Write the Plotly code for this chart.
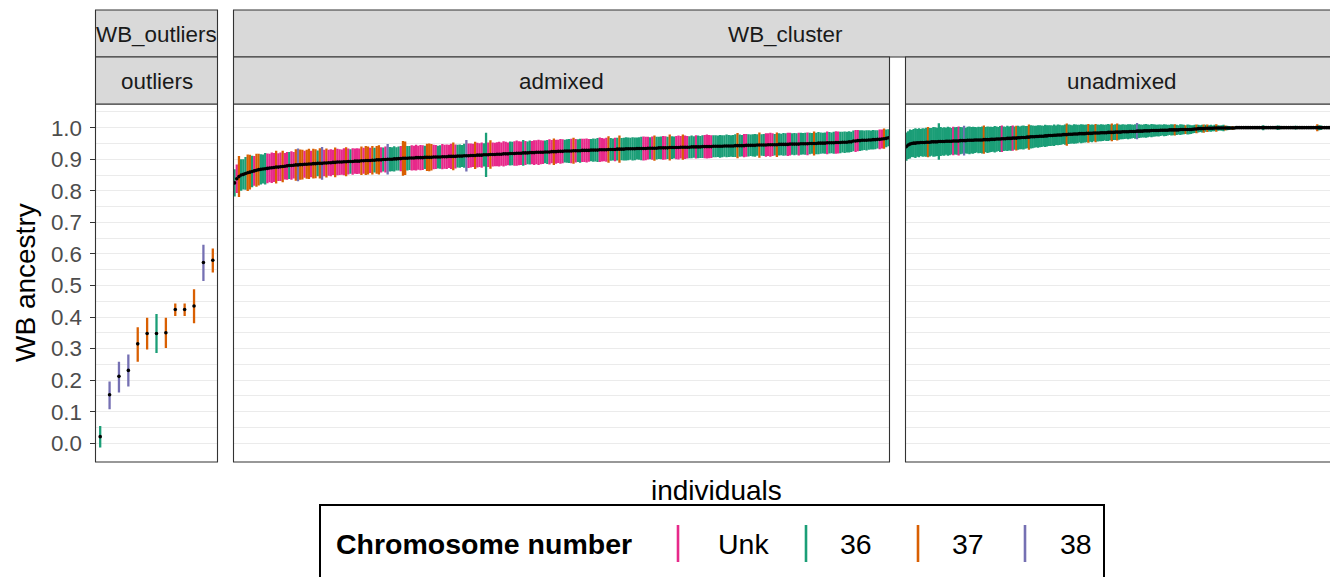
import plotly.graph_objects as go

# ---------------- data ----------------
chrom_labels = ["Unk", "36", "37", "38"]
chrom_code_map = {"U": "Unk", "6": "36", "7": "37", "8": "38"}

outlier_mean = [0.021, 0.154, 0.212, 0.231, 0.315, 0.348, 0.348, 0.350, 0.424, 0.424, 0.435, 0.573, 0.580]
outlier_lo = [-0.013, 0.108, 0.161, 0.180, 0.258, 0.297, 0.286, 0.302, 0.403, 0.403, 0.380, 0.514, 0.541]
outlier_hi = [0.055, 0.196, 0.258, 0.281, 0.368, 0.398, 0.410, 0.398, 0.443, 0.443, 0.488, 0.629, 0.617]
outlier_chrom = ["36", "38", "38", "38", "37", "37", "36", "37", "37", "37", "37", "38", "37"]

# admixed: mean and half-width of interval, in thousandths
admixed_mean_k = [
    825, 838, 845, 850, 852, 855, 857, 859, 861, 863, 865, 867, 868, 869, 870, 871, 872, 873, 874, 875,
    875, 876, 877, 878, 879, 880, 880, 881, 882, 882, 883, 883, 884, 884, 885, 885, 886, 886, 887, 887,
    887, 888, 888, 889, 889, 890, 890, 891, 891, 891, 892, 892, 893, 893, 893, 894, 894, 894, 895, 895,
    896, 896, 896, 897, 897, 898, 898, 898, 899, 899, 900, 900, 900, 901, 901, 902, 902, 903, 903, 903,
    904, 904, 904, 905, 905, 905, 905, 906, 906, 906, 906, 907, 907, 907, 907, 908, 908, 908, 909, 909,
    909, 909, 910, 910, 910, 911, 911, 911, 912, 912, 912, 913, 913, 913, 914, 914, 914, 915, 915, 915,
    916, 916, 916, 917, 917, 917, 918, 918, 918, 919, 919, 919, 920, 920, 920, 921, 921, 921, 922, 922,
    922, 922, 923, 923, 923, 924, 924, 924, 925, 925, 925, 926, 926, 926, 926, 927, 927, 927, 927, 928,
    928, 928, 928, 929, 929, 929, 929, 930, 930, 930, 930, 931, 931, 931, 931, 932, 932, 932, 932, 933,
    933, 933, 933, 933, 934, 934, 934, 934, 934, 935, 935, 935, 935, 935, 936, 936, 936, 936, 936, 937,
    937, 937, 937, 937, 938, 938, 938, 938, 938, 939, 939, 939, 939, 939, 940, 940, 940, 940, 940, 941,
    941, 941, 941, 941, 942, 942, 942, 942, 942, 943, 943, 943, 943, 943, 944, 944, 944, 944, 944, 945,
    945, 945, 945, 945, 946, 946, 946, 946, 946, 947, 947, 947, 947, 947, 948, 948, 948, 948, 948, 949,
    949, 949, 949, 950, 950, 950, 950, 951, 951, 951, 951, 952, 952, 952, 952, 953, 953, 953, 954, 954,
    954, 955, 955, 958, 958, 959, 959, 960, 960, 960, 961, 961, 962, 962, 963, 963, 964, 965, 966, 968,
]
admixed_err_k = [
    43, 45, 65, 50, 48, 52, 58, 55, 50, 47, 52, 50, 48, 46, 50, 47, 45, 48, 46, 52,
    44, 45, 50, 42, 44, 43, 45, 42, 50, 52, 48, 47, 43, 46, 48, 42, 47, 46, 41, 48,
    52, 42, 46, 41, 43, 40, 47, 42, 41, 40, 43, 46, 41, 39, 42, 40, 41, 40, 45, 41,
    46, 44, 40, 45, 39, 44, 46, 40, 38, 41, 48, 39, 38, 40, 37, 38, 40, 55, 53, 39,
    38, 40, 39, 41, 38, 40, 39, 37, 43, 44, 42, 39, 38, 36, 37, 40, 38, 39, 37, 40,
    44, 38, 36, 37, 35, 38, 50, 39, 38, 37, 43, 39, 38, 40, 37, 70, 39, 45, 38, 37,
    38, 39, 37, 40, 38, 36, 38, 37, 39, 40, 38, 37, 41, 38, 36, 38, 37, 39, 38, 40,
    38, 37, 36, 38, 40, 37, 42, 38, 37, 39, 38, 36, 37, 38, 39, 41, 37, 36, 38, 37,
    37, 38, 36, 35, 37, 36, 38, 39, 37, 36, 38, 42, 36, 35, 37, 36, 43, 35, 36, 37,
    36, 35, 37, 36, 35, 36, 37, 38, 37, 36, 35, 37, 40, 36, 35, 36, 38, 37, 35, 41,
    36, 35, 37, 38, 36, 40, 37, 36, 35, 36, 34, 37, 36, 35, 36, 37, 38, 37, 36, 35,
    35, 34, 36, 35, 34, 36, 35, 34, 35, 36, 40, 35, 34, 37, 36, 35, 34, 35, 36, 34,
    40, 34, 35, 37, 36, 38, 36, 34, 39, 35, 34, 36, 35, 37, 36, 34, 35, 34, 36, 35,
    34, 35, 36, 34, 33, 38, 34, 35, 34, 33, 34, 36, 34, 33, 35, 36, 35, 34, 33, 34,
    33, 34, 32, 33, 35, 34, 33, 32, 31, 32, 31, 30, 31, 30, 29, 31, 30, 32, 28, 27,
]
# chromosome code per admixed individual (U=Unk, 6=36, 7=37, 8=38)
admixed_chrom_codes = (
    "6U7666776U77666UUUU7"
    "UU7UU6UU7877U77U7767"
    "8U7UUU7UUUU7U6UUUU7U"
    "77U7677U6U866666U776"
    "6UUUUUU6777UU66UUUUU"
    "7U66668UUU7UUU66U7UU"
    "UUUUUU66UUUU6U66UUUU"
    "UU66UU7UUUU666U7U66U"
    "UUU6666UUUU766U67666"
    "6666666UUU6U7666UU67"
    "66UUU7UU666U666UUUU6"
    "6666666666766UU66666"
    "766UUUU676666UU666U6"
    "66U66766666U666UU666"
    "6666UU666666666UU766"
)

unadmixed_mean_k = [
    940, 945, 948, 950, 951, 951, 952, 952, 953, 953, 953, 954, 954, 954, 955, 955, 955, 955, 956, 956,
    956, 956, 957, 957, 957, 957, 958, 958, 958, 958, 959, 959, 959, 959, 960, 960, 960, 960, 961, 961,
    961, 961, 961, 962, 962, 962, 962, 963, 963, 963, 964, 964, 964, 965, 965, 965, 966, 966, 966, 967,
    967, 967, 968, 968, 969, 969, 969, 970, 970, 971, 971, 971, 972, 972, 973, 973, 973, 974, 974, 975,
    975, 975, 976, 976, 977, 977, 977, 978, 978, 978, 979, 979, 979, 980, 980, 980, 981, 981, 981, 981,
    982, 982, 982, 982, 983, 983, 983, 983, 984, 984, 984, 984, 985, 985, 985, 985, 986, 986, 986, 986,
    987, 987, 987, 987, 988, 988, 988, 988, 989, 989, 989, 989, 990, 990, 990, 990, 991, 991, 991, 991,
    991, 992, 992, 992, 992, 992, 993, 993, 993, 993, 993, 993, 994, 994, 994, 994, 994, 994, 994, 995,
    996, 996, 997, 997, 997, 997, 998, 998, 998, 998, 998, 999, 999, 999, 999, 999, 999, 999, 999, 999,
    999, 999, 999, 1000, 1000, 1000, 1000, 1000, 1000, 1000, 1000, 1000, 1000, 1000, 1000, 1000, 1000, 1000, 1000, 1000,
    1000, 1000, 1000, 1000, 1000, 1000, 1000, 1000, 1000, 1000, 1000, 1000, 1000, 1000, 1000, 1000, 1000, 1000, 1000, 1000,
    1000, 1000, 1000, 1000, 1000, 1000, 1000, 1000, 1000, 1000, 1000, 1000, 1000, 1000, 1000, 1000, 1000, 1000, 1000, 1000,
]
unadmixed_err_k = [
    45, 44, 46, 43, 45, 47, 44, 46, 43, 45, 44, 46, 48, 45, 44, 47, 46, 45, 58, 46,
    44, 45, 43, 46, 44, 42, 45, 43, 44, 46, 43, 42, 47, 41, 43, 44, 42, 43, 41, 40,
    42, 41, 43, 45, 40, 42, 41, 40, 39, 42, 40, 38, 41, 42, 39, 38, 40, 38, 39, 40,
    37, 39, 38, 36, 37, 38, 36, 35, 40, 37, 36, 35, 34, 36, 35, 34, 33, 35, 34, 33,
    33, 32, 34, 31, 33, 32, 31, 30, 32, 35, 31, 30, 29, 31, 30, 29, 28, 30, 29, 28,
    28, 30, 27, 28, 26, 29, 27, 26, 27, 26, 25, 26, 27, 25, 28, 24, 25, 27, 24, 23,
    24, 23, 22, 24, 23, 22, 21, 23, 26, 22, 21, 20, 21, 22, 20, 19, 21, 20, 19, 18,
    19, 18, 17, 19, 18, 17, 16, 18, 17, 18, 16, 15, 17, 16, 15, 14, 16, 15, 14, 13,
    13, 14, 12, 11, 12, 13, 11, 12, 10, 11, 9, 10, 12, 9, 8, 9, 10, 8, 7, 6,
    5, 6, 4, 3, 0, 0, 0, 0, 0, 0, 0, 0, 0, 0, 0, 0, 0, 0, 8, 0,
    0, 0, 0, 0, 0, 0, 7, 6, 0, 0, 0, 0, 0, 0, 0, 0, 6, 0, 0, 0,
    0, 0, 0, 0, 0, 0, 0, 0, 11, 8, 7, 0, 0, 0, 0, 0, 0, 0, 0, 0,
]
unadmixed_chrom_codes = (
    "66666666666676666666"
    "666666U66U6686666666"
    "6667666666666U66666U"
    "67666666766666666666"
    "66666666676666666666"
    "67666766666666766766"
    "66666666866666666666"
    "66666666676666676666"
    "67666767666676666766"
    "67666666666666666666"
    "66666666666666666666"
    "66666666766666666666"
)

y_ticks = [0.0, 0.1, 0.2, 0.3, 0.4, 0.5, 0.6, 0.7, 0.8, 0.9, 1.0]

# ---------------- styles / layout constants ----------------
W, H = 1330, 577
FONT = "Liberation Sans, Arial, Helvetica, sans-serif"
chrom_colors = {"Unk": "#E7298A", "36": "#1B9E77", "37": "#D95F02", "38": "#7570B3"}


def px(x):
    return x / W


def py(y):
    return 1 - y / H


PANEL_TOP, PANEL_BOT = 104, 462
panels = {
    "x": (95.5, 217.5),
    "x2": (233.5, 889.5),
    "x3": (905.5, 1338.0),
}
VISIBLE_RIGHT = 1330.0
BAR_PX = 2.3


def build(mean_k, err_k, codes):
    n = min(len(mean_k), len(err_k), len(codes))
    m = [v / 1000 for v in mean_k[:n]]
    lo = [m[i] - err_k[i] / 1000 for i in range(n)]
    hi = [m[i] + err_k[i] / 1000 for i in range(n)]
    ch = [chrom_code_map[c] for c in codes[:n]]
    return m, lo, hi, ch


adm = build(admixed_mean_k, admixed_err_k, admixed_chrom_codes)
una = build(unadmixed_mean_k, unadmixed_err_k, unadmixed_chrom_codes)
outl = (outlier_mean, outlier_lo, outlier_hi, outlier_chrom)

fig = go.Figure()
panel_data = {"x": outl, "x2": adm, "x3": una}
axis_ranges = {}
for ax, (m, lo, hi, ch) in panel_data.items():
    n = len(m)
    x0p, x1p = panels[ax]
    unit = (x1p - x0p) / n
    if ax == "x3":
        r = [-0.5, -0.5 + n * (VISIBLE_RIGHT - x0p) / (x1p - x0p)]
    else:
        r = [-0.5, n - 0.5]
    axis_ranges[ax] = r
    xs = list(range(n))
    fig.add_trace(go.Bar(
        x=xs, base=lo, y=[hi[i] - lo[i] for i in range(n)],
        width=BAR_PX / unit,
        marker=dict(color=[chrom_colors[c] for c in ch], line=dict(width=0)),
        xaxis=ax, yaxis="y", showlegend=False, hoverinfo="skip",
    ))
    fig.add_trace(go.Scatter(
        x=xs, y=m, mode="markers",
        marker=dict(color="black", size=3.6, line=dict(width=0)),
        xaxis=ax, yaxis="y", showlegend=False, hoverinfo="skip",
    ))

layout = dict(
    width=W, height=H,
    margin=dict(l=0, r=0, t=0, b=0),
    paper_bgcolor="white", plot_bgcolor="white",
    barmode="overlay",
    showlegend=False,
    font=dict(family=FONT),
    yaxis=dict(
        domain=[py(PANEL_BOT), py(PANEL_TOP)],
        range=[-0.0593, 1.075],
        anchor="x",
        tickvals=y_ticks, ticktext=[f"{v:.1f}" for v in y_ticks],
        ticks="outside", ticklen=5, tickwidth=1.1, tickcolor="#333333",
        ticklabelstandoff=3,
        tickfont=dict(size=22.4, color="#4D4D4D", family=FONT),
        showgrid=True, gridcolor="#EBEBEB", gridwidth=1.1,
        minor=dict(tickvals=[v + 0.05 for v in y_ticks], showgrid=True,
                   gridcolor="#EBEBEB", gridwidth=0.55, ticks=""),
        zeroline=False, showline=False, fixedrange=True,
    ),
)
for ax in ["x", "x2", "x3"]:
    key = "xaxis" if ax == "x" else "xaxis" + ax[1:]
    x0p, x1p = panels[ax]
    layout[key] = dict(
        domain=[px(x0p), px(min(x1p, VISIBLE_RIGHT))],
        range=axis_ranges[ax], anchor="y",
        showticklabels=False, showgrid=False, zeroline=False, ticks="",
        showline=False, fixedrange=True,
    )
fig.update_layout(**layout)

shapes = []
annotations = []
BORDER = "#333333"
STRIP_FILL = "#D9D9D9"

# panel borders
for ax, (x0p, x1p) in panels.items():
    right = x1p + 8 if ax == "x3" else x1p
    shapes.append(dict(type="rect", xref="paper", yref="paper",
                       x0=px(x0p), x1=px(right), y0=py(PANEL_BOT), y1=py(PANEL_TOP),
                       line=dict(color=BORDER, width=1.1), fillcolor="rgba(0,0,0,0)", layer="above"))

# strips
strips = [
    (95.5, 217.5, 10, 57, "WB_outliers"),
    (233.5, 1338.0, 10, 57, "WB_cluster"),
    (95.5, 217.5, 57, 104, "outliers"),
    (233.5, 889.5, 57, 104, "admixed"),
    (905.5, 1338.0, 57, 104, "unadmixed"),
]
for x0, x1, y0, y1, label in strips:
    shapes.append(dict(type="rect", xref="paper", yref="paper",
                       x0=px(x0), x1=px(x1 + (8 if x1 > 1330 else 0)), y0=py(y1), y1=py(y0),
                       line=dict(color=BORDER, width=1.1), fillcolor=STRIP_FILL, layer="above"))
    annotations.append(dict(text=label, xref="paper", yref="paper",
                            x=px((x0 + x1) / 2), y=py((y0 + y1) / 2 + 1),
                            xanchor="center", yanchor="middle", showarrow=False,
                            font=dict(size=22.4, color="#1A1A1A", family=FONT)))

# axis titles
annotations.append(dict(text="individuals", xref="paper", yref="paper",
                        x=px(716.5), y=py(490), xanchor="center", yanchor="middle",
                        showarrow=False, font=dict(size=28, color="black", family=FONT)))
annotations.append(dict(text="WB ancestry", xref="paper", yref="paper",
                        x=px(25), y=py(283), xanchor="center", yanchor="middle",
                        textangle=-90, showarrow=False,
                        font=dict(size=28, color="black", family=FONT)))

# legend (drawn manually, ggplot-style line keys)
shapes.append(dict(type="rect", xref="paper", yref="paper",
                   x0=px(320), x1=px(1104), y0=py(620), y1=py(505),
                   line=dict(color="black", width=2), fillcolor="white", layer="above"))
annotations.append(dict(text="<b>Chromosome number</b>", xref="paper", yref="paper",
                        x=px(334), y=py(544), xanchor="left", yanchor="middle",
                        showarrow=False, font=dict(size=28.5, color="black", family=FONT)))
key_x = [678, 806, 918, 1025]
label_x = [716, 838, 950, 1058]
for lab, kx, lx in zip(chrom_labels, key_x, label_x):
    shapes.append(dict(type="line", xref="paper", yref="paper",
                       x0=px(kx), x1=px(kx), y0=py(562), y1=py(525),
                       line=dict(color=chrom_colors[lab], width=2.6), layer="above"))
    annotations.append(dict(text=lab, xref="paper", yref="paper",
                            x=px(lx), y=py(544), xanchor="left", yanchor="middle",
                            showarrow=False, font=dict(size=28.5, color="black", family=FONT)))

fig.update_layout(shapes=shapes, annotations=annotations)
fig.write_html("out.html", config={"displayModeBar": False},
               post_script="document.body.style.margin='0px';")
